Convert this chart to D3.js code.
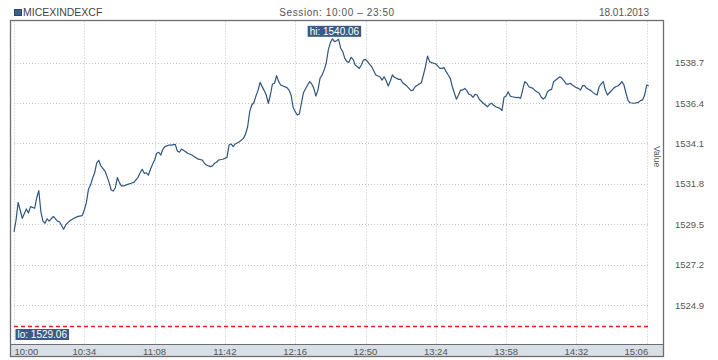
<!DOCTYPE html>
<html>
<head>
<meta charset="utf-8">
<script src="https://cdn.jsdelivr.net/npm/d3@7"></script>
<style>
  html, body { margin: 0; padding: 0; background: #fff; }
  svg { display: block; font-family: "Liberation Sans", Arial, sans-serif; }
</style>
</head>
<body>
<div id="chart"></div>
<script>
// one row per trading hour
const times = [
  "10:00","10:01","10:02","10:04","10:06","10:07","10:08","10:10","10:11","10:12","10:13","10:14","10:15","10:16","10:17","10:19","10:21","10:22","10:24","10:25","10:27","10:29","10:31","10:33","10:34","10:35","10:36","10:37","10:38","10:39","10:40","10:41","10:42","10:44","10:45","10:46","10:47","10:48","10:49","10:50","10:51","10:52","10:53","10:55","10:57","10:58",
  "11:00","11:01","11:02","11:03","11:04","11:05","11:06","11:07","11:08","11:09","11:10","11:11","11:12","11:13","11:15","11:16","11:18","11:19","11:20","11:21","11:23","11:24","11:26","11:28","11:29","11:31","11:32","11:33","11:35","11:36","11:37","11:38","11:39","11:41","11:43","11:44","11:45","11:46","11:47","11:49","11:51","11:52","11:53","11:54","11:55","11:56","11:57","11:58","11:59",
  "12:01","12:02","12:03","12:04","12:05","12:06","12:07","12:08","12:09","12:12","12:13","12:14","12:15","12:16","12:17","12:18","12:19","12:20","12:22","12:23","12:24","12:25","12:26","12:27","12:28","12:29","12:30","12:31","12:32","12:33","12:34","12:35","12:36","12:37","12:38","12:39","12:40","12:41","12:42","12:43","12:44","12:45","12:47","12:48","12:49","12:50","12:51","12:52","12:53","12:55","12:56","12:57","12:58","12:59",
  "13:00","13:01","13:02","13:03","13:04","13:06","13:07","13:08","13:10","13:11","13:12","13:13","13:14","13:16","13:17","13:18","13:19","13:20","13:21","13:22","13:23","13:24","13:26","13:27","13:28","13:29","13:30","13:31","13:32","13:33","13:34","13:35","13:36","13:37","13:38","13:39","13:40","13:41","13:42","13:43","13:44","13:45","13:47","13:48","13:49","13:50","13:51","13:52","13:53","13:55","13:56","13:57","13:58","13:59",
  "14:00","14:01","14:03","14:04","14:05","14:06","14:07","14:08","14:09","14:11","14:12","14:14","14:15","14:16","14:17","14:18","14:19","14:20","14:21","14:22","14:24","14:25","14:26","14:27","14:28","14:29","14:30","14:32","14:33","14:34","14:35","14:36","14:37","14:39","14:40","14:41","14:42","14:43","14:44","14:45","14:46","14:47","14:48","14:50","14:51","14:52","14:53","14:54","14:55","14:56","14:57","14:58",
  "15:00","15:02","15:03","15:04","15:05","15:06","15:07"
];

const values = [
  1529.06,1529.74,1530.75,1529.84,1530.37,1530.14,1530.50,1530.41,1531.01,1531.41,1530.21,1529.68,1529.55,1529.81,1529.68,1529.95,1529.68,1529.64,1529.21,1529.46,1529.70,1529.84,1529.95,1529.99,1530.31,1530.73,1531.49,1531.73,1532.12,1532.43,1533.00,1533.14,1532.82,1532.53,1532.21,1531.87,1531.45,1531.39,1531.58,1532.16,1531.87,1531.68,1531.68,1531.77,1531.85,1531.88,
  1532.17,1532.43,1532.63,1532.40,1532.43,1532.30,1532.63,1532.91,1533.16,1533.54,1533.60,1533.44,1533.77,1533.92,1534.01,1534.01,1534.05,1533.67,1533.60,1533.78,1533.63,1533.54,1533.44,1533.29,1533.21,1533.16,1533.00,1532.87,1532.78,1532.82,1532.97,1533.03,1533.16,1533.20,1533.31,1534.01,1534.07,1533.92,1534.07,1534.20,1534.39,1534.64,1535.05,1535.91,1536.29,1536.42,1536.80,1537.11,1537.58,
  1537.11,1536.86,1536.39,1536.86,1537.49,1537.53,1537.96,1537.62,1537.43,1537.28,1537.14,1536.86,1536.16,1535.91,1535.72,1535.78,1536.39,1536.99,1537.43,1537.62,1537.49,1537.24,1536.80,1537.14,1537.81,1538.00,1538.28,1538.67,1539.42,1539.84,1540.06,1539.90,1539.95,1540.03,1539.52,1539.33,1538.95,1538.76,1538.72,1539.01,1538.89,1538.57,1538.38,1538.57,1538.85,1538.89,1538.76,1538.61,1538.47,1538.00,1537.94,1537.90,1537.71,1537.90,
  1537.67,1537.37,1537.66,1538.00,1537.87,1537.75,1537.75,1537.56,1537.37,1537.24,1537.11,1537.14,1537.33,1537.49,1537.56,1538.00,1538.47,1539.08,1538.76,1538.70,1538.67,1538.63,1538.38,1538.38,1538.42,1538.19,1538.00,1537.81,1537.33,1536.96,1536.62,1536.86,1537.14,1537.14,1537.24,1537.11,1536.90,1536.86,1536.73,1536.90,1536.86,1536.62,1536.39,1536.29,1536.19,1536.33,1536.39,1536.27,1536.19,1536.10,1535.97,1536.73,1536.80,1537.05,
  1536.80,1536.76,1536.71,1536.73,1536.67,1537.14,1537.62,1537.53,1537.33,1537.24,1537.11,1536.96,1536.73,1536.63,1536.73,1537.05,1537.14,1537.18,1537.62,1537.71,1537.90,1537.81,1537.67,1537.49,1537.47,1537.53,1537.43,1537.28,1537.24,1537.14,1537.39,1537.39,1537.24,1537.11,1537.01,1536.92,1536.86,1537.33,1537.49,1537.62,1537.14,1536.86,1536.99,1537.24,1537.33,1537.37,1537.47,1537.62,1537.43,1536.96,1536.54,1536.42,
  1536.39,1536.44,1536.54,1536.58,1536.86,1537.43,1537.37
];

const xTickLabels = ["10:00","10:34","11:08","11:42","12:16","12:50","13:24","13:58","14:32","15:06"];
const yTickValues = [1524.9, 1527.2, 1529.5, 1531.8, 1534.1, 1536.4, 1538.7];
const dashedLevel = 1523.7;

const title = "MICEXINDEXCF";
const sessionText = "Session: 10:00 \u2013 23:50";
const dateText = "18.01.2013";
const yAxisTitle = "Value";

const width = 718, height = 360;
const frame = { left: 10.5, right: 663.5, top: 20.5, axisTop: 344.5, bottom: 356.5 };
const lineColor = "#2f5582";
const boxColor = "#3a5c84";
const textColor = "#555";

const parseTime = d3.timeParse("%H:%M");
const data = times.map((t, i) => ({ t: parseTime(t), v: values[i] }));

const x = d3.scaleTime()
  .domain([parseTime(xTickLabels[0]), parseTime(xTickLabels[xTickLabels.length - 1])])
  .range([14, 646.7]);

const y = d3.scaleLinear()
  .domain([yTickValues[0], yTickValues[yTickValues.length - 1]])
  .range([305, 62.7]);

const svg = d3.select("#chart")
  .append("svg")
  .attr("width", width)
  .attr("height", height);

// header
svg.append("rect")
  .attr("x", 14.5).attr("y", 9.5)
  .attr("width", 7).attr("height", 6)
  .attr("fill", "#3b6190")
  .attr("stroke", "#2a4668");

svg.append("text")
  .attr("x", 23).attr("y", 16)
  .attr("font-size", 10.5)
  .attr("fill", "#444")
  .text(title);

svg.append("text")
  .attr("x", (frame.left + frame.right) / 2).attr("y", 16)
  .attr("text-anchor", "middle")
  .attr("font-size", 10)
  .attr("letter-spacing", 0.6)
  .attr("fill", textColor)
  .text(sessionText);

svg.append("text")
  .attr("x", 649).attr("y", 16)
  .attr("text-anchor", "end")
  .attr("font-size", 10)
  .attr("fill", textColor)
  .text(dateText);

// axis band at the bottom
svg.append("rect")
  .attr("x", frame.left).attr("y", frame.axisTop)
  .attr("width", frame.right - frame.left)
  .attr("height", frame.bottom - frame.axisTop)
  .attr("fill", "#d8dfe6");

const xFirst = x(data[0].t);
const xLast = x(data[data.length - 1].t);

// grid
const grid = svg.append("g")
  .attr("stroke", "#c4c4c4")
  .attr("stroke-dasharray", "1,2");

grid.selectAll("line.v")
  .data(xTickLabels)
  .join("line")
  .attr("class", "v")
  .attr("x1", d => Math.round(x(parseTime(d))) + 0.5)
  .attr("x2", d => Math.round(x(parseTime(d))) + 0.5)
  .attr("y1", frame.top + 1)
  .attr("y2", frame.axisTop);

grid.selectAll("line.h")
  .data(yTickValues)
  .join("line")
  .attr("class", "h")
  .attr("x1", xFirst)
  .attr("x2", xLast)
  .attr("y1", d => Math.round(y(d)) + 0.5)
  .attr("y2", d => Math.round(y(d)) + 0.5);

// dashed level line
const yDash = Math.round(y(dashedLevel)) + 0.5;
svg.append("line")
  .attr("x1", xFirst).attr("x2", xLast + 1)
  .attr("y1", yDash).attr("y2", yDash)
  .attr("stroke", "#ee1c1c")
  .attr("stroke-width", 1.3)
  .attr("stroke-dasharray", "4,3");

// series
const line = d3.line()
  .x(d => x(d.t))
  .y(d => y(d.v));

svg.append("path")
  .datum(data)
  .attr("d", line)
  .attr("fill", "none")
  .attr("stroke", lineColor)
  .attr("stroke-width", 1.2)
  .attr("stroke-linejoin", "round");

// frame
svg.append("rect")
  .attr("x", frame.left).attr("y", frame.top)
  .attr("width", frame.right - frame.left)
  .attr("height", frame.bottom - frame.top)
  .attr("fill", "none")
  .attr("stroke", "#6e6e6e")
  .attr("stroke-width", 1.3);

svg.append("line")
  .attr("x1", frame.left).attr("x2", frame.right)
  .attr("y1", frame.axisTop).attr("y2", frame.axisTop)
  .attr("stroke", "#6e6e6e");

// x tick labels
svg.append("g")
  .attr("font-size", 9.5)
  .attr("fill", textColor)
  .selectAll("text")
  .data(xTickLabels)
  .join("text")
  .attr("x", (d, i) => x(parseTime(d)) + (i === 0 ? 0.5 : i === xTickLabels.length - 1 ? 1.5 : 0))
  .attr("y", 354.5)
  .attr("text-anchor", (d, i) => i === 0 ? "start" : i === xTickLabels.length - 1 ? "end" : "middle")
  .text(d => d);

// y tick labels on the right
svg.append("g")
  .attr("font-size", 9.5)
  .attr("fill", textColor)
  .selectAll("text")
  .data(yTickValues)
  .join("text")
  .attr("x", 675)
  .attr("y", d => y(d) + 3.5)
  .text(d => d.toFixed(1));

svg.append("text")
  .attr("transform", "translate(654,146) rotate(90)")
  .attr("font-size", 8.5)
  .attr("fill", textColor)
  .text(yAxisTitle);

// hi / lo boxes
const hi = data[d3.maxIndex(data, d => d.v)];
const lo = data[d3.minIndex(data, d => d.v)];

function tag(label, cx, top, clampLeft) {
  const g = svg.append("g");
  const txt = g.append("text")
    .attr("font-size", 10)
    .attr("fill", "#fff")
    .text(label);
  const w = txt.node().getComputedTextLength() + 4;
  let left = cx - w / 2;
  if (left < clampLeft) left = clampLeft;
  g.insert("rect", "text")
    .attr("x", left).attr("y", top)
    .attr("width", w).attr("height", 11)
    .attr("fill", boxColor);
  txt.attr("x", left + 2).attr("y", top + 9);
}

tag("hi: " + hi.v.toFixed(2), x(hi.t) + 2, y(hi.v) - 13, xFirst + 1.5);
tag("lo: " + lo.v.toFixed(2), x(lo.t), yDash + 2.5, xFirst + 1.5);
</script>
</body>
</html>
